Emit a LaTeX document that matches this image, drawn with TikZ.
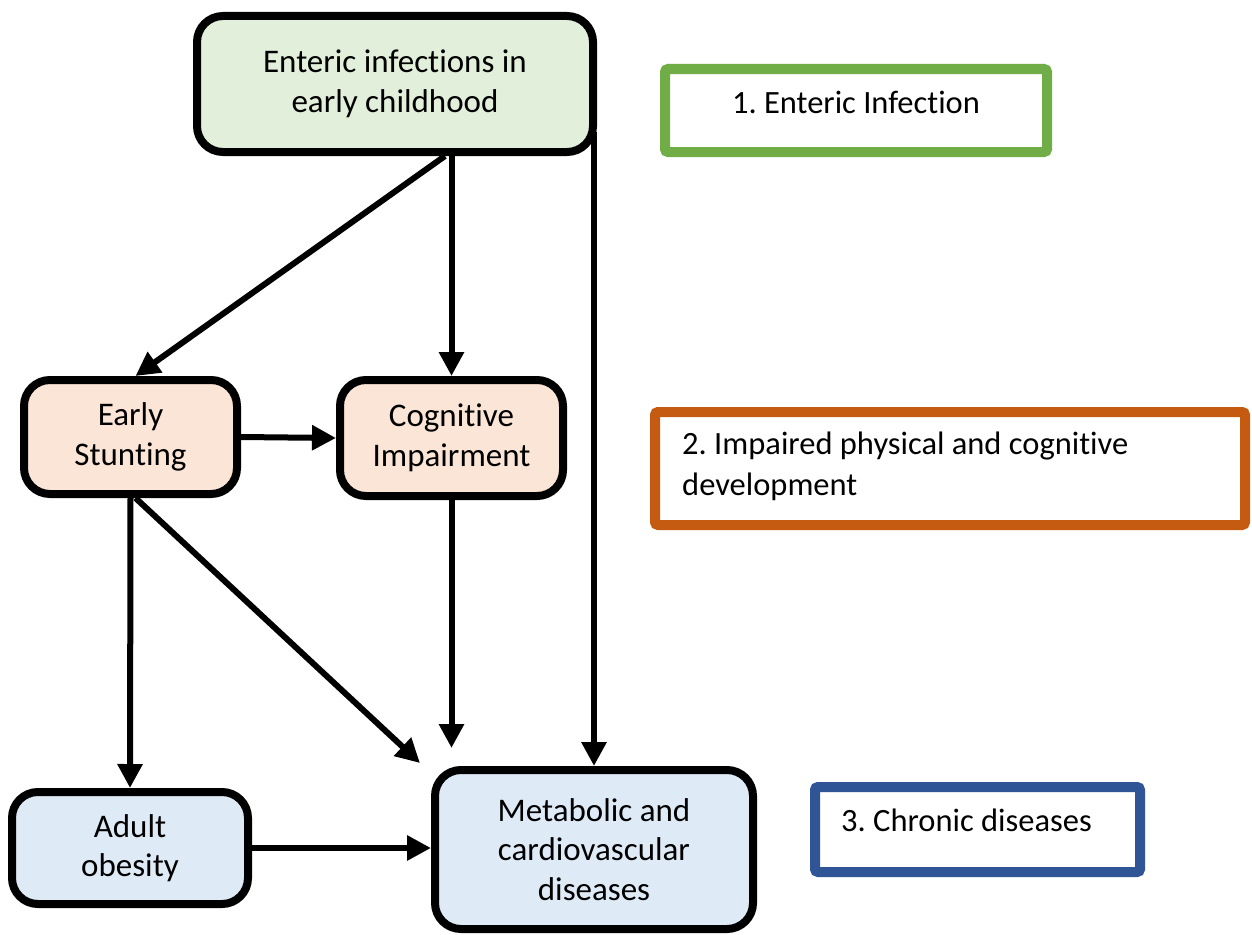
\documentclass[tikz,border=0pt]{standalone}
\usepackage{fontspec}
\setmainfont{Carlito}[Ligatures=NoCommon]
\frenchspacing
\usetikzlibrary{arrows.meta,calc}
\definecolor{fgreen}{HTML}{E2EFDA}
\definecolor{fpeach}{HTML}{FBE5D6}
\definecolor{fblue}{HTML}{DEEBF7}
\definecolor{lgreen}{HTML}{70AD47}
\definecolor{lorange}{HTML}{C55A11}
\definecolor{lblue}{HTML}{2F5597}
\tikzset{
  box/.style={draw=black, line width=8pt, rounded corners=26pt, align=center,
    inner sep=0pt, font=\fontsize{33}{39.5}\selectfont},
  legbox/.style={draw=#1, line width=10pt, rounded corners=3pt, inner sep=0pt, fill=white},
  legtext/.style={font=\fontsize{32.5}{41}\selectfont, inner sep=0pt},
  arr/.style={line width=6pt, -{Triangle[length=24pt,width=24pt]}},
}
\begin{document}
\begin{tikzpicture}[x=1pt,y=-1pt]
\useasboundingbox[fill=white] (0,0) rectangle (1252,934);
% main boxes
\node[box, fill=fgreen, minimum width=396pt, minimum height=136pt] (top) at (395,84) {Enteric infections in\\early childhood};
\node[box, fill=fpeach, minimum width=213pt, minimum height=114pt] (stunt) at (130.5,437) {Early\\Stunting};
\node[box, fill=fpeach, minimum width=223pt, minimum height=116pt] (cog) at (451.5,438) {Cognitive\\Impairment};
\node[box, fill=fblue, minimum width=236pt, minimum height=112pt] (adult) at (130,848) {Adult\\obesity};
\node[box, fill=fblue, minimum width=318pt, minimum height=159pt] (met) at (594,849.5) {Metabolic and\\cardiovascular\\diseases};
% legend boxes
\node[legbox=lgreen, minimum width=382pt, minimum height=83pt] (l1) at (856,110.5) {};
\node[legtext] (t1) at (856,102) {1. Enteric Infection};
\node[legbox=lorange, minimum width=590pt, minimum height=113pt] (l2) at (950,468.5) {};
\node[legtext, anchor=west, align=left] (t2) at (682,466) {2. Impaired physical and cognitive\\development};
\node[legbox=lblue, minimum width=325pt, minimum height=85pt] (l3) at (977.5,829.5) {};
\node[legtext, anchor=west] (t3) at (841,820) {3. Chronic diseases};
% free ends
\coordinate (d1) at (420,763);
\coordinate (c1) at (453,748);
% connectors
\draw[arr] ([xshift=50pt]top.south) -- ([xshift=5pt]stunt.north);
\draw[arr] (cog.north |- top.south) -- (cog.north);
\draw[arr] ([yshift=24pt]met.north |- top.south) -- (met.north);
\draw[arr] (stunt.east) -- (cog.west);
\draw[arr] (stunt.south) -- (adult.north);
\draw[arr] ([xshift=5pt]stunt.south) -- (d1);
\draw[arr] (cog.south) -- (cog.south |- c1);
\draw[arr] (adult.east) -- (adult.east -| met.west);
\end{tikzpicture}
\end{document}
